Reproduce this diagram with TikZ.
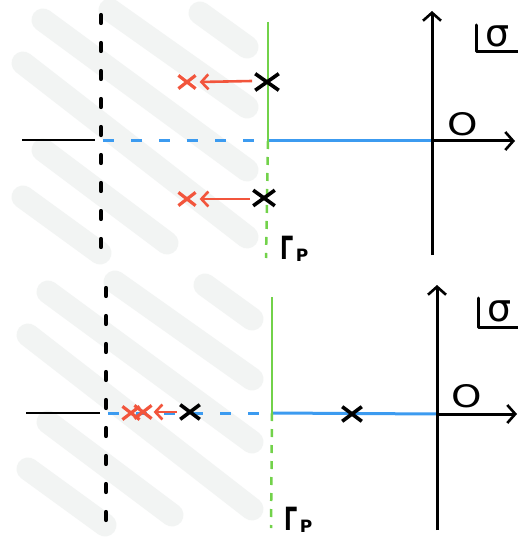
\documentclass[tikz,border=0pt]{standalone}
\usepackage{fontspec}
\newfontfamily\lbl{DejaVu Sans}
\usetikzlibrary{arrows.meta,shapes.misc}
\definecolor{hatch}{HTML}{F2F4F3}
\definecolor{polered}{HTML}{F2553C}
\definecolor{axisblue}{HTML}{3C9BF0}
\definecolor{contgreen}{HTML}{72D24A}
\begin{document}
\begin{tikzpicture}[x=1pt,y=-1pt,
  hatchstroke/.style={hatch,line width=23pt,line cap=round},
  axisline/.style={black,line width=3pt},
  axarrow/.style={axisline,-{Straight Barb[length=8pt,width=18pt,line width=2.6pt]}},
  leftline/.style={black,line width=2.6pt},
  barrier/.style={black,line width=4.2pt,line cap=round,dash pattern=on 8pt off 20pt},
  bluedash/.style={axisblue,line width=3pt,dash pattern=on 11pt off 17pt},
  bluesolid/.style={axisblue,line width=3pt},
  greensolid/.style={contgreen,line width=2.5pt},
  greendash/.style={contgreen,line width=2.5pt,dash pattern=on 8pt off 8pt},
  polex/.style={cross out,draw=black,line width=3.6pt,minimum width=17pt,minimum height=11pt,inner sep=0pt},
  redx/.style={cross out,draw=polered,line width=3.2pt,minimum width=14pt,minimum height=10pt,inner sep=0pt},
  movearrow/.style={polered,line width=2.6pt,-{Straight Barb[length=7pt,width=15pt,line width=2.6pt]}},
  bigtxt/.style={font=\lbl\fontsize{31}{31}\selectfont,inner sep=0pt},
  sigtxt/.style={font=\lbl\fontsize{38}{38}\selectfont,inner sep=0pt},
  gammatxt/.style={font=\lbl\bfseries\fontsize{32}{32}\selectfont,inner sep=0pt,xscale=0.65},
  subtxt/.style={font=\lbl\bfseries\fontsize{17}{17}\selectfont,inner sep=0pt},
  cornerline/.style={black,line width=3pt,line cap=round,line join=round}]
\useasboundingbox (0,0) rectangle (518,540);
\fill[white] (0,0) rectangle (518,540);

% ---------- hatching, top panel ----------
\draw[hatchstroke] (200,13) -- (247,47);
\draw[hatchstroke] (110,10) -- (247,107);
\draw[hatchstroke] (43,20) -- (247,170);
\draw[hatchstroke] (23,63) -- (247,237);
\draw[hatchstroke] (43,150) -- (167,243);
\draw[hatchstroke] (23,197) -- (100,253);
% ---------- hatching, bottom panel ----------
\draw[hatchstroke] (205,285) -- (252,319);
\draw[hatchstroke] (115,282) -- (252,379);
\draw[hatchstroke] (48,292) -- (252,442);
\draw[hatchstroke] (28,335) -- (252,509);
\draw[hatchstroke] (48,422) -- (172,515);
\draw[hatchstroke] (28,469) -- (105,525);

% ================= TOP PANEL =================
\coordinate (t-bar-top) at (101,15);
\coordinate (t-bar-bot) at (101,255);
\coordinate (t-left) at (22,140);
\coordinate (t-leftend) at (95,140);
\coordinate (t-blue0) at (103,141);
\coordinate (t-cut) at (268,141);
\coordinate (t-origin) at (432,141);
\coordinate (t-xend) at (515,141);
\coordinate (t-ybot) at (432,255);
\coordinate (t-ytop) at (432,11);
\coordinate (t-gtop) at (268,22);
\coordinate (t-gbot) at (266,258);
\coordinate (t-c1) at (476,25);
\coordinate (t-c2) at (476,52);
\coordinate (t-c3) at (518,52);

\draw[barrier] (t-bar-top) -- (t-bar-bot);
\draw[leftline] (t-left) -- (t-leftend);
\draw[bluedash] (t-blue0) -- (t-cut);
\draw[bluesolid] (t-cut) -- (t-origin);
\draw[greensolid] (t-gtop) -- (t-cut);
\draw[greendash] (t-cut) -- (t-gbot);
\draw[axarrow] (t-origin) -- (t-xend);
\draw[axarrow] (t-ybot) -- (t-ytop);
\draw[cornerline] (t-c1) -- (t-c2) -- (t-c3);

\node[polex,minimum width=20pt,minimum height=13pt] (t-p1) at (267,82) {};
\node[polex,minimum width=18pt,minimum height=12pt] (t-p2) at (264,198) {};
\node[redx] (t-r1) at (187,82) {};
\node[redx] (t-r2) at (187,199) {};
\draw[movearrow] (t-p1.west) ++(-3,-1) coordinate (t-a1) (t-a1) -- ([xshift=4pt]t-r1.east) ;
\draw[movearrow] (t-p2.west) ++(-3,1) coordinate (t-a2) (t-a2) -- ([xshift=4pt]t-r2.east);

\node[bigtxt,xscale=1.25] (t-O) at (463,124) {O};
\node[sigtxt,anchor=west] (t-sigma) at (485,36) {σ};
\node[gammatxt] (t-Gamma) at (287,248) {Γ};
\node[subtxt] (t-P) at (302,255) {P};

% ================= BOTTOM PANEL =================
\coordinate (b-bar-top) at (106,288);
\coordinate (b-bar-bot) at (106,530);
\coordinate (b-left) at (26,413);
\coordinate (b-leftend) at (100,413);
\coordinate (b-blue0) at (108,413);
\coordinate (b-cut) at (272,413);
\coordinate (b-origin) at (437,414);
\coordinate (b-xend) at (517,414);
\coordinate (b-ybot) at (437,530);
\coordinate (b-ytop) at (437,285);
\coordinate (b-gtop) at (272,297);
\coordinate (b-gbot) at (271,528);
\coordinate (b-c1) at (478,298);
\coordinate (b-c2) at (478,327);
\coordinate (b-c3) at (518,327);

\draw[barrier] (b-bar-top) -- (b-bar-bot);
\draw[leftline] (b-left) -- (b-leftend);
\draw[bluedash] (b-blue0) -- (b-cut);
\draw[bluesolid] (b-cut) -- (b-origin);
\draw[greensolid] (b-gtop) -- (b-cut);
\draw[greendash] (b-cut) -- (b-gbot);
\draw[axarrow] (b-origin) -- (b-xend);
\draw[axarrow] (b-ybot) -- (b-ytop);
\draw[cornerline] (b-c1) -- (b-c2) -- (b-c3);

\node[polex,minimum width=16pt,minimum height=11pt] (b-p1) at (190,412) {};
\node[polex,minimum width=16pt,minimum height=11pt] (b-p2) at (352,414) {};
\node[redx] (b-r1) at (131,413) {};
\node[redx] (b-r2) at (143,412) {};
\draw[movearrow] (b-p1.west) ++(-3,0) coordinate (b-a1) (b-a1) -- ([xshift=2pt]b-r2.east);

\node[bigtxt,xscale=1.25] (b-O) at (467,396) {O};
\node[sigtxt,anchor=west] (b-sigma) at (487,311) {σ};
\node[gammatxt] (b-Gamma) at (291,519) {Γ};
\node[subtxt] (b-P) at (306,526) {P};
\end{tikzpicture}
\end{document}
